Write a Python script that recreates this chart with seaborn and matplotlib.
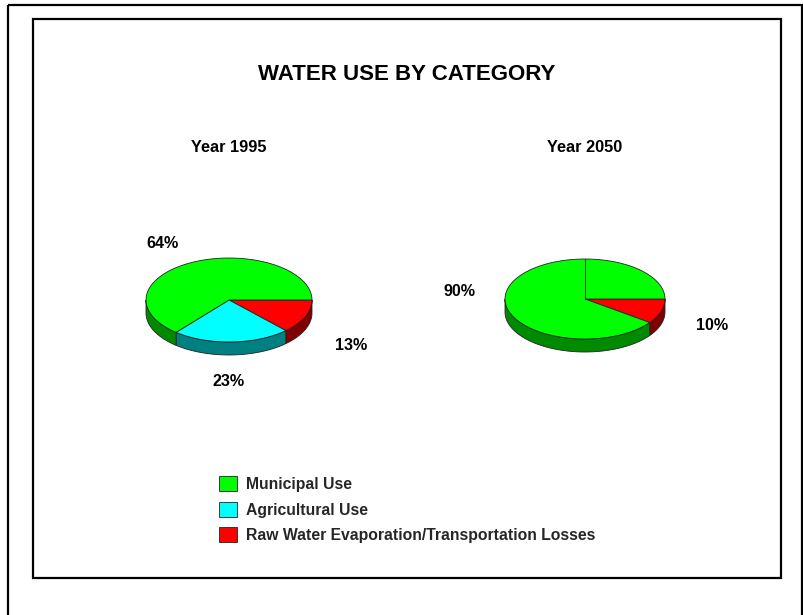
import numpy as np
import matplotlib
matplotlib.use("Agg")
import matplotlib.pyplot as plt
from matplotlib.patches import Polygon, Rectangle, Patch
import seaborn as sns

# ---- data -------------------------------------------------------------
categories = ["Municipal Use", "Agricultural Use",
              "Raw Water Evaporation/Transportation Losses"]
years = ["Year 1995", "Year 2050"]
share_1995 = [64, 23, 13]
share_2050 = [90, 0, 10]
title = "WATER USE BY CATEGORY"

# ---- style ------------------------------------------------------------
sns.set_theme(style="white")
plt.rcParams["font.family"] = ["Liberation Sans", "DejaVu Sans"]

top_colors = ["#00ff00", "#00ffff", "#ff0000"]
side_colors = ["#008a00", "#008080", "#800000"]
edge = "#222222"

# pie geometry in pixel space (y grows downward)
pies = [
    dict(values=share_1995, cx=229, cy=300, rx=83, ry=42, depth=13, seam=None,
         labels=[(163, 243), (229, 381), (351, 345)]),
    dict(values=share_2050, cx=585, cy=299, rx=80, ry=40, depth=13, seam=270,
         labels=[(460, 292), None, (712, 325)]),
]

fig = plt.figure(figsize=(8.04, 6.15), dpi=100)
ax = fig.add_axes([0, 0, 1, 1])
ax.set_xlim(0, 804)
ax.set_ylim(615, 0)
ax.axis("off")

# frames
ax.add_patch(Rectangle((8.5, 4.5), 794, 640, fill=False, lw=1.6, ec="black"))
ax.add_patch(Rectangle((33, 19), 748, 559, fill=False, lw=1.6, ec="black"))

ax.text(407, 75, title, ha="center", va="center", fontsize=16,
        fontweight="bold", color="black")


def arc(cx, cy, rx, ry, a0, a1, n=120):
    t = np.radians(np.linspace(a0, a1, max(2, int(n * (a1 - a0) / 360) + 2)))
    return cx + rx * np.cos(t), cy + ry * np.sin(t)


def draw_pie(p):
    cx, cy, rx, ry, d = p["cx"], p["cy"], p["rx"], p["ry"], p["depth"]
    vals = np.array(p["values"], dtype=float)
    # slices run clockwise (on screen) from 3 o'clock, in reverse category order
    order = [2, 1, 0]
    angles = []
    a = 0.0
    for i in order:
        span = 360.0 * vals[i] / vals.sum()
        angles.append((i, a, a + span))
        a += span
    # side walls (front half only: 0..180 degrees)
    for i, a0, a1 in angles:
        if a1 - a0 <= 0:
            continue
        s0, s1 = max(a0, 0), min(a1, 180)
        if s1 > s0:
            x, y = arc(cx, cy, rx, ry, s0, s1)
            xs = np.concatenate([x, x[::-1]])
            ys = np.concatenate([y, y[::-1] + d])
            ax.add_patch(Polygon(np.column_stack([xs, ys]), closed=True,
                                 fc=side_colors[i], ec=edge, lw=0.6))
    # top faces
    for i, a0, a1 in angles:
        if a1 - a0 <= 0:
            continue
        x, y = arc(cx, cy, rx, ry, a0, a1)
        xs = np.concatenate([[cx], x])
        ys = np.concatenate([[cy], y])
        ax.add_patch(Polygon(np.column_stack([xs, ys]), closed=True,
                             fc=top_colors[i], ec=edge, lw=0.6))
    if p["seam"] is not None:
        t = np.radians(p["seam"])
        ax.plot([cx, cx + rx * np.cos(t)], [cy, cy + ry * np.sin(t)],
                color=edge, lw=0.6)
    # percentage labels
    for i, pos in enumerate(p["labels"]):
        if pos is None:
            continue
        ax.text(pos[0], pos[1], f"{p['values'][i]}%", ha="center",
                va="center", fontsize=11.6, fontweight="bold", color="black")


for p, yr in zip(pies, years):
    draw_pie(p)
    ax.text(p["cx"], 148, yr, ha="center", va="center", fontsize=11.8,
            fontweight="bold", color="black")

handles = [Patch(facecolor=c, edgecolor=edge, lw=0.6) for c in top_colors]
leg = ax.legend(handles, categories, loc="upper left",
                bbox_to_anchor=(213 / 804, 1 - 470 / 615), frameon=False,
                prop=dict(size=11.3, weight="bold"), handlelength=1.12,
                handleheight=1.08, handletextpad=0.58, labelspacing=0.62,
                borderaxespad=0)

fig.savefig("out.png", dpi=100, facecolor="white")
